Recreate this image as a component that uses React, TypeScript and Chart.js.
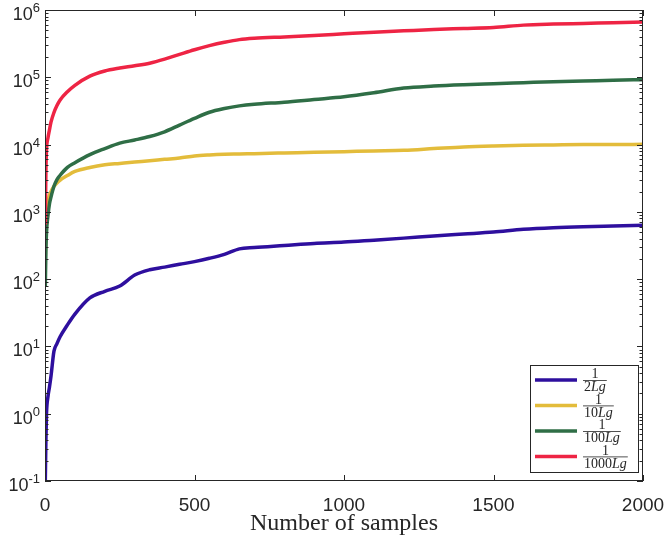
import React, { useEffect, useRef } from 'react';
import { Chart, registerables } from 'chart.js';

Chart.register(...registerables);

// sample positions shared by all four curves
const samples = [1, 3, 5, 10, 15, 20, 30, 40, 50, 75, 100, 150, 200, 250, 300, 350, 400, 450, 500, 550, 600, 650, 700, 800, 900, 1000, 1100, 1200, 1300, 1400, 1500, 1600, 1700, 1800, 1900, 2000];

const seriesHalf = [0.1, 0.4, 1.0, 1.8, 2.5, 3.6, 8.5, 11.0, 13.8, 20.9, 30.2, 52.5, 66, 79, 115, 138, 151, 166, 182, 204, 234, 282, 295, 316, 339, 355, 380, 407, 437, 468, 501, 550, 582, 603, 617, 631];
const seriesTenth = [220, 630, 955, 1410, 1780, 2000, 2400, 2690, 2950, 3470, 3980, 4570, 5010, 5250, 5500, 5750, 6030, 6310, 6760, 7000, 7160, 7240, 7330, 7500, 7670, 7850, 8040, 8220, 8710, 9230, 9550, 9770, 9890, 10000, 10000, 10100];
const seriesHundredth = [78, 250, 490, 890, 1320, 1660, 2400, 3020, 3470, 4570, 5370, 7080, 8710, 10500, 11700, 13200, 15500, 19500, 24500, 30200, 34300, 37600, 39800, 42700, 46800, 51300, 58900, 69200, 74100, 77600, 80400, 83200, 86100, 88100, 90200, 92300];
const seriesThousandth = [650, 4000, 8300, 12600, 16600, 21500, 30000, 38000, 45700, 61000, 76000, 104000, 124000, 137000, 148000, 162000, 186000, 219000, 257000, 295000, 331000, 363000, 380000, 398000, 417000, 442000, 468000, 490000, 513000, 531000, 550000, 596000, 617000, 631000, 646000, 661000];

const legendDenominators = ['2', '10', '100', '1000'];
const xTicks = [0, 500, 1000, 1500, 2000];
const yExponents = [-1, 0, 1, 2, 3, 4, 5, 6];

const colors = ['#2e0f9e', '#e3bc3b', '#2f6e46', '#ee2444'];
const axisColor = '#262626';

const toPoints = (vals: number[]) => vals.map((v, i) => ({ x: samples[i], y: v }));

const axesPlugin = {
  id: 'matlabAxes',
  afterDatasetsDraw(chart: any) {
    const { ctx, chartArea: a, scales } = chart;
    const xs = scales.x;
    const ys = scales.y;
    ctx.save();
    ctx.strokeStyle = axisColor;
    ctx.lineWidth = 1;
    ctx.strokeRect(a.left + 0.5, a.top + 0.5, a.right - a.left - 1, a.bottom - a.top - 1);

    ctx.beginPath();
    // x ticks, inward on bottom and top
    xTicks.forEach((t) => {
      const px = Math.round(xs.getPixelForValue(t)) + 0.5;
      ctx.moveTo(px, a.bottom);
      ctx.lineTo(px, a.bottom - 6);
      ctx.moveTo(px, a.top);
      ctx.lineTo(px, a.top + 6);
    });
    // y major and minor ticks, inward on left and right
    yExponents.forEach((e) => {
      for (let m = 1; m <= 9; m++) {
        const v = m * Math.pow(10, e);
        if (v > 1e6 + 1) continue;
        const py = Math.round(ys.getPixelForValue(v)) + 0.5;
        const len = m === 1 ? 6 : 3.5;
        ctx.moveTo(a.left, py);
        ctx.lineTo(a.left + len, py);
        ctx.moveTo(a.right, py);
        ctx.lineTo(a.right - len, py);
      }
    });
    ctx.stroke();

    ctx.fillStyle = axisColor;
    // x tick labels
    ctx.font = '19px "Liberation Sans", Arial, sans-serif';
    ctx.textAlign = 'center';
    ctx.textBaseline = 'alphabetic';
    xTicks.forEach((t) => {
      ctx.fillText(String(t), xs.getPixelForValue(t), a.bottom + 30);
    });
    // y tick labels 10^e
    yExponents.forEach((e) => {
      const py = ys.getPixelForValue(Math.pow(10, e));
      const exp = String(e);
      ctx.font = '13px "Liberation Sans", Arial, sans-serif';
      const ew = ctx.measureText(exp).width;
      const right = a.left - 5;
      ctx.textAlign = 'left';
      ctx.fillText(exp, right - ew, py + 2);
      ctx.font = '18px "Liberation Sans", Arial, sans-serif';
      ctx.textAlign = 'right';
      ctx.fillText('10', right - ew, py + 10);
    });
    // axis title
    ctx.font = '24px "Liberation Serif", "DejaVu Serif", serif';
    ctx.textAlign = 'center';
    ctx.fillText('Number of samples', (a.left + a.right) / 2, a.bottom + 49);
    ctx.restore();
  },
  afterDraw(chart: any) {
    const { ctx } = chart;
    const box = { x: 530, y: 365, w: 108, h: 107 };
    const serif = '"Liberation Serif", "DejaVu Serif", serif';
    ctx.save();
    ctx.fillStyle = '#ffffff';
    ctx.fillRect(box.x, box.y, box.w, box.h);
    ctx.strokeStyle = axisColor;
    ctx.lineWidth = 1;
    ctx.strokeRect(box.x + 0.5, box.y + 0.5, box.w, box.h);
    legendDenominators.forEach((d, i) => {
      const cy = 380 + i * 25.5;
      ctx.strokeStyle = colors[i];
      ctx.lineWidth = 3.5;
      ctx.beginPath();
      ctx.moveTo(535, cy);
      ctx.lineTo(577, cy);
      ctx.stroke();

      ctx.font = `14px ${serif}`;
      const dw = ctx.measureText(d).width;
      ctx.font = `italic 14px ${serif}`;
      const lw = ctx.measureText('Lg').width;
      const barW = dw + lw + 2;
      const bx = 583;
      ctx.fillStyle = axisColor;
      ctx.fillRect(bx, cy, barW, 0.8);
      ctx.textAlign = 'left';
      ctx.textBaseline = 'alphabetic';
      ctx.font = `14px ${serif}`;
      const nw = ctx.measureText('1').width;
      ctx.fillText('1', bx + (barW - nw) / 2, cy - 2);
      ctx.fillText(d, bx + 1, cy + 11);
      ctx.font = `italic 14px ${serif}`;
      ctx.fillText('Lg', bx + 1 + dw, cy + 11);
    });
    ctx.restore();
  },
};

const App: React.FC = () => {
  const canvasRef = useRef<HTMLCanvasElement | null>(null);
  const chartRef = useRef<Chart | null>(null);

  useEffect(() => {
    document.body.style.margin = '0';
    if (!canvasRef.current) return;
    if (chartRef.current) chartRef.current.destroy();
    const ctx = canvasRef.current.getContext('2d');
    if (!ctx) return;

    const all = [seriesHalf, seriesTenth, seriesHundredth, seriesThousandth];
    chartRef.current = new Chart(ctx, {
      type: 'line',
      data: {
        datasets: all.map((vals, i) => ({
          label: `1/${legendDenominators[i]}Lg`,
          data: toPoints(vals),
          borderColor: colors[i],
          backgroundColor: colors[i],
          borderWidth: 3.5,
          pointRadius: 0,
          fill: false,
          cubicInterpolationMode: 'monotone' as const,
          order: 4 - i,
        })),
      },
      options: {
        animation: false,
        responsive: false,
        maintainAspectRatio: false,
        layout: { padding: { top: 10, right: 21, left: 0, bottom: 0 } },
        plugins: { legend: { display: false }, tooltip: { enabled: false } },
        scales: {
          x: {
            type: 'linear',
            min: 0,
            max: 2000,
            grid: { display: false },
            border: { display: false },
            ticks: { display: false },
            afterFit: (s: any) => {
              s.height = 59;
            },
          },
          y: {
            type: 'logarithmic',
            min: 0.1,
            max: 1e6,
            grid: { display: false },
            border: { display: false },
            ticks: { display: false },
            afterFit: (s: any) => {
              s.width = 45;
            },
          },
        },
      },
      plugins: [axesPlugin],
    });

    return () => {
      if (chartRef.current) {
        chartRef.current.destroy();
        chartRef.current = null;
      }
    };
  }, []);

  return (
    <div style={{ width: '664px', height: '540px', background: '#fff' }}>
      <canvas ref={canvasRef} width={664} height={540}></canvas>
    </div>
  );
};

export default App;
